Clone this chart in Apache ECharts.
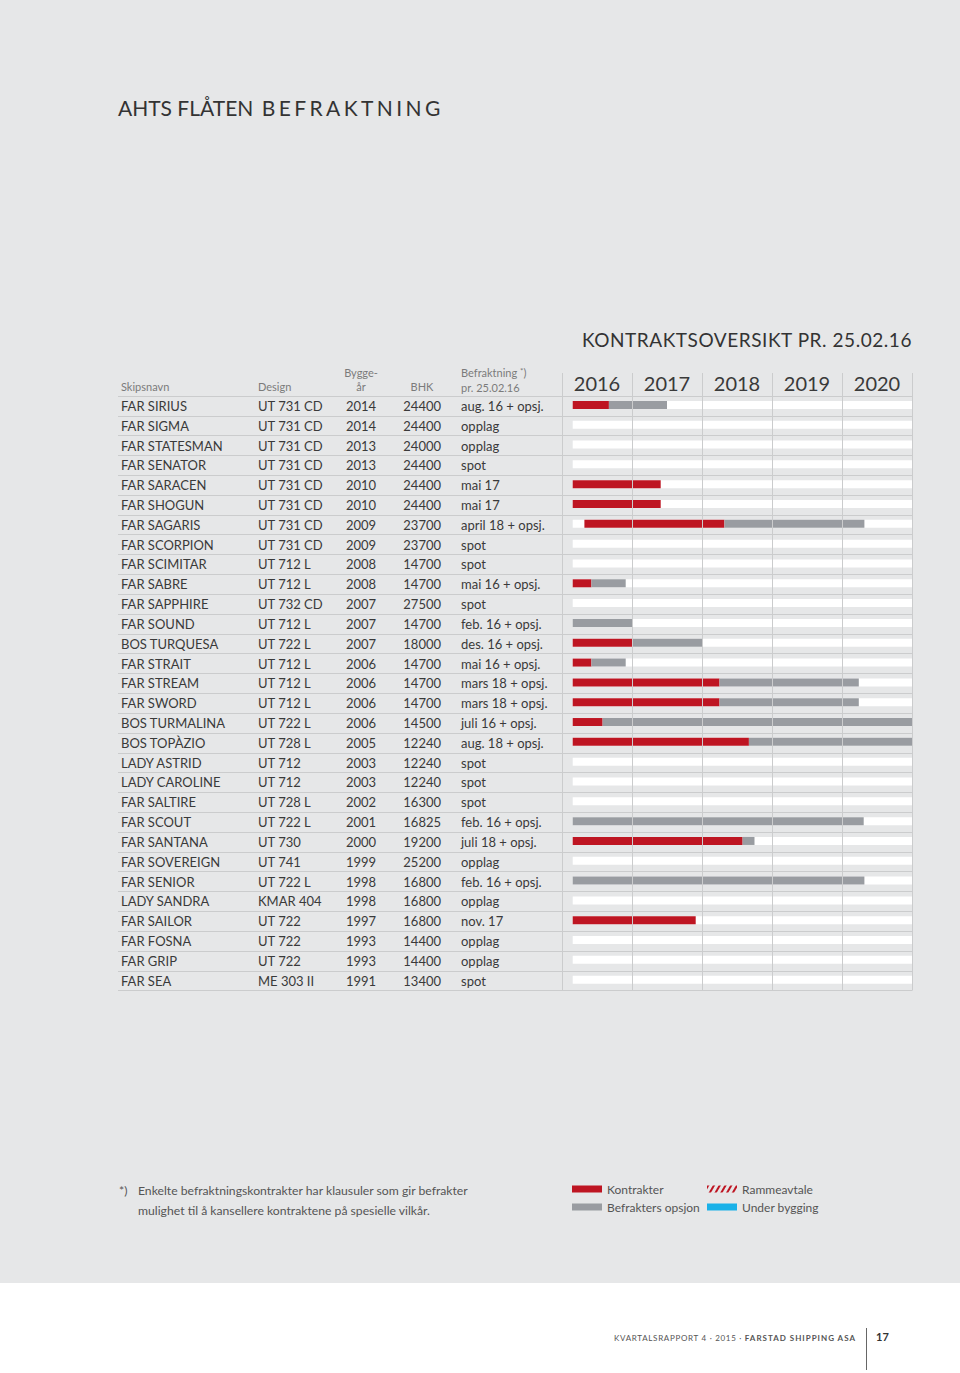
<!DOCTYPE html>
<html lang="no">
<head>
<meta charset="utf-8">
<title>AHTS flåten befraktning</title>
<script src="https://cdn.jsdelivr.net/npm/echarts@6.0.0/dist/echarts.min.js"></script>
<style>
  body { margin: 0; width: 960px; height: 1373px; background: #fff; font-family: Lato, Roboto, sans-serif; color: #3a3a3a; position: relative; overflow: hidden; }
  .sheet { position: absolute; left: 0; top: 0; width: 960px; height: 1283px; background: #e6e7e8; }
  #chart { position: absolute; left: 0; top: 0; width: 960px; height: 1283px; }
  .txt { position: absolute; white-space: nowrap; }
  .title { left: 118px; top: 95px; font-size: 21px; line-height: 26px; color: #333; }
  .title .wide { letter-spacing: 3.4px; margin-left: 3px; }
  .sub { right: 48px; top: 328px; font-size: 19px; line-height: 24px; letter-spacing: 0.55px; color: #333; }
  .head { font-size: 11px; line-height: 14px; color: #7b7b7b; }
  .head .star { position: relative; top: -3px; font-size: 8px; }
  .note { font-size: 12.2px; line-height: 20px; color: #555; }
  .foot { left: 614px; top: 1332px; font-size: 8px; line-height: 12px; letter-spacing: 0.7px; color: #555; }
  .foot b { letter-spacing: 1px; }
  .pageno { left: 876px; top: 1330px; font-size: 11px; line-height: 14px; font-weight: bold; color: #333; }
  .rule { position: absolute; left: 866px; top: 1328px; width: 1px; height: 42px; background: #666; }
</style>
</head>
<body>
<div class="sheet"></div>
<div class="txt title">AHTS FLÅTEN <span class="wide">BEFRAKTNING</span></div>
<div class="txt sub">KONTRAKTSOVERSIKT PR. 25.02.16</div>

<div class="txt head" style="left:121px;top:380px">Skipsnavn</div>
<div class="txt head" style="left:258px;top:380px">Design</div>
<div class="txt head" style="left:341px;top:366px;width:40px;text-align:center">Bygge-<br>år</div>
<div class="txt head" style="left:402px;top:380px;width:40px;text-align:center">BHK</div>
<div class="txt head" style="left:461px;top:366px">Befraktning <span class="star">*</span>)<br>pr. 25.02.16</div>

<div id="chart"></div>

<div class="txt note" style="left:119px;top:1181px">*)</div>
<div class="txt note" style="left:138px;top:1181px">Enkelte befraktningskontrakter har klausuler som gir befrakter<br>mulighet til å kansellere kontraktene på spesielle vilkår.</div>

<div class="txt foot">KVARTALSRAPPORT 4 · 2015 · <b>FARSTAD SHIPPING ASA</b></div>
<div class="rule"></div>
<div class="txt pageno">17</div>

<script>
// skip og kontraktsdata pr. 25.02.16
const ships = ['FAR SIRIUS', 'FAR SIGMA', 'FAR STATESMAN', 'FAR SENATOR', 'FAR SARACEN', 'FAR SHOGUN', 'FAR SAGARIS', 'FAR SCORPION', 'FAR SCIMITAR', 'FAR SABRE', 'FAR SAPPHIRE', 'FAR SOUND', 'BOS TURQUESA', 'FAR STRAIT', 'FAR STREAM', 'FAR SWORD', 'BOS TURMALINA', 'BOS TOPÀZIO', 'LADY ASTRID', 'LADY CAROLINE', 'FAR SALTIRE', 'FAR SCOUT', 'FAR SANTANA', 'FAR SOVEREIGN', 'FAR SENIOR', 'LADY SANDRA', 'FAR SAILOR', 'FAR FOSNA', 'FAR GRIP', 'FAR SEA'];
const designs = ['UT 731 CD', 'UT 731 CD', 'UT 731 CD', 'UT 731 CD', 'UT 731 CD', 'UT 731 CD', 'UT 731 CD', 'UT 731 CD', 'UT 712 L', 'UT 712 L', 'UT 732 CD', 'UT 712 L', 'UT 722 L', 'UT 712 L', 'UT 712 L', 'UT 712 L', 'UT 722 L', 'UT 728 L', 'UT 712', 'UT 712', 'UT 728 L', 'UT 722 L', 'UT 730', 'UT 741', 'UT 722 L', 'KMAR 404', 'UT 722', 'UT 722', 'UT 722', 'ME 303 II'];
const built = ['2014', '2014', '2013', '2013', '2010', '2010', '2009', '2009', '2008', '2008', '2007', '2007', '2007', '2006', '2006', '2006', '2006', '2005', '2003', '2003', '2002', '2001', '2000', '1999', '1998', '1998', '1997', '1993', '1993', '1991'];
const bhk = ['24400', '24400', '24000', '24400', '24400', '24400', '23700', '23700', '14700', '14700', '27500', '14700', '18000', '14700', '14700', '14700', '14500', '12240', '12240', '12240', '16300', '16825', '19200', '25200', '16800', '16800', '16800', '14400', '14400', '13400'];
const charter = ['aug. 16 + opsj.', 'opplag', 'opplag', 'spot', 'mai 17', 'mai 17', 'april 18 + opsj.', 'spot', 'spot', 'mai 16 + opsj.', 'spot', 'feb. 16 + opsj.', 'des. 16 + opsj.', 'mai 16 + opsj.', 'mars 18 + opsj.', 'mars 18 + opsj.', 'juli 16 + opsj.', 'aug. 18 + opsj.', 'spot', 'spot', 'spot', 'feb. 16 + opsj.', 'juli 18 + opsj.', 'opplag', 'feb. 16 + opsj.', 'opplag', 'nov. 17', 'opplag', 'opplag', 'spot'];

const years = ['2016', '2017', '2018', '2019', '2020'];
const reportDate = 2016.153; // 25.02.16 som desimalår
const timelineEnd = 2021;
const D = reportDate;
// kontrakt (rød) og befrakters opsjon (grå), i desimalår
const contractStart = [D, null, null, null, D, D, 2016.32, null, null, D, null, null, D, D, D, D, D, D, null, null, null, null, D, null, null, null, D, null, null, null];
const contractEnd = [2016.67, null, null, null, 2017.41, 2017.41, 2018.32, null, null, 2016.42, null, null, 2017.0, 2016.42, 2018.25, 2018.25, 2016.58, 2018.67, null, null, null, null, 2018.58, null, null, null, 2017.91, null, null, null];
const optionEnd = [2017.5, null, null, null, null, null, 2020.32, null, null, 2016.91, null, 2017.0, 2018.0, 2016.91, 2020.24, 2020.24, 2021.0, 2021.0, null, null, null, 2020.31, 2018.75, null, 2020.32, null, null, null, null, null];

const RED = '#be1522';
const GRAY = '#999ca1';
const LINE = '#cbcccd';
const TXT = '#3a3a3a';

// tabellen starter ved x=118, tidslinjen ved x=562, 70px per år
const pxPerYear = 70;
const axisMin = 2016 - (562 - 118) / pxPerYear;

const whiteData = ships.map((s, i) => [i, reportDate, timelineEnd]);
const redData = [];
const grayData = [];
ships.forEach((s, i) => {
  if (contractEnd[i] != null) redData.push([i, contractStart[i], contractEnd[i]]);
  if (optionEnd[i] != null) grayData.push([i, contractEnd[i] != null ? contractEnd[i] : reportDate, optionEnd[i]]);
});

function segment(params, api) {
  const row = api.value(0);
  const p0 = api.coord([api.value(1), row]);
  const p1 = api.coord([api.value(2), row]);
  const h = 8;
  return {
    type: 'rect',
    shape: { x: p0[0], y: p0[1] - h / 2 - 1, width: p1[0] - p0[0], height: h },
    style: api.style()
  };
}

// en kolonne i tabellen = en kategoriakse uten linjer
function column(data, margin, align) {
  return {
    type: 'category', gridIndex: 0, position: 'left', inverse: true, data: data,
    axisLine: { show: false }, axisTick: { show: false }, splitLine: { show: false },
    axisLabel: { interval: 0, margin: margin, align: align, color: TXT, fontSize: 13, fontFamily: 'Lato', padding: [4, 0, 0, 0] }
  };
}

const nameAxis = column(ships, -3, 'left');
nameAxis.splitLine = { show: true, interval: 0, lineStyle: { color: LINE, width: 1 } };

const legendText = { color: '#555', fontSize: 12, fontFamily: 'Lato' };

const chart = echarts.init(document.getElementById('chart'), null, { renderer: 'svg' });
chart.setOption({
  animation: false,
  backgroundColor: 'transparent',
  textStyle: { fontFamily: 'Lato' },
  grid: [
    { left: 118, width: 794, top: 396, height: 594.6, outerBoundsMode: 'none' },
    { left: 562, width: 350, top: 373, height: 617.6, outerBoundsMode: 'none' }
  ],
  xAxis: [
    { type: 'value', gridIndex: 0, min: axisMin, max: timelineEnd, show: false },
    {
      type: 'category', gridIndex: 1, position: 'top', data: years, z: 5,
      axisLine: { show: false }, axisTick: { show: false },
      axisLabel: { inside: true, margin: 0, color: TXT, fontSize: 20, fontFamily: 'Lato' },
      splitLine: { show: true, interval: 0, lineStyle: { color: LINE, width: 1 } }
    }
  ],
  yAxis: [
    nameAxis,
    column(designs, 118 - 258, 'left'),
    column(built, 118 - 346, 'left'),
    column(bhk, 118 - 441, 'right'),
    column(charter, 118 - 461, 'left'),
    { type: 'value', gridIndex: 1, show: false }
  ],
  legend: [
    {
      left: 572, top: 1183, padding: 0, orient: 'vertical', itemGap: 6, itemWidth: 30, itemHeight: 7, icon: 'rect',
      textStyle: legendText, data: ['Kontrakter', 'Befrakters opsjon']
    },
    {
      left: 707, top: 1183, padding: 0, orient: 'vertical', itemGap: 6, itemWidth: 30, itemHeight: 7, icon: 'rect',
      textStyle: legendText, data: ['Rammeavtale', 'Under bygging']
    }
  ],
  series: [
    {
      name: 'ledig', type: 'custom', xAxisIndex: 0, yAxisIndex: 0, z: 2, silent: true,
      renderItem: segment, encode: { x: [1, 2], y: 0 }, itemStyle: { color: '#ffffff' }, data: whiteData
    },
    {
      name: 'Kontrakter', type: 'custom', xAxisIndex: 0, yAxisIndex: 0, z: 3,
      renderItem: segment, encode: { x: [1, 2], y: 0 }, itemStyle: { color: RED }, data: redData
    },
    {
      name: 'Befrakters opsjon', type: 'custom', xAxisIndex: 0, yAxisIndex: 0, z: 3,
      renderItem: segment, encode: { x: [1, 2], y: 0 }, itemStyle: { color: GRAY }, data: grayData
    },
    {
      name: 'Rammeavtale', type: 'custom', xAxisIndex: 0, yAxisIndex: 0, z: 3,
      renderItem: segment, encode: { x: [1, 2], y: 0 },
      itemStyle: {
        color: 'rgba(0,0,0,0)',
        decal: { symbol: 'rect', symbolSize: 1, color: RED, dashArrayX: [1, 0], dashArrayY: [2, 3], rotation: -Math.PI / 3 }
      },
      data: []
    },
    {
      name: 'Under bygging', type: 'custom', xAxisIndex: 0, yAxisIndex: 0, z: 3,
      renderItem: segment, encode: { x: [1, 2], y: 0 }, itemStyle: { color: '#1ab1e8' }, data: []
    }
  ]
});
</script>
</body>
</html>
